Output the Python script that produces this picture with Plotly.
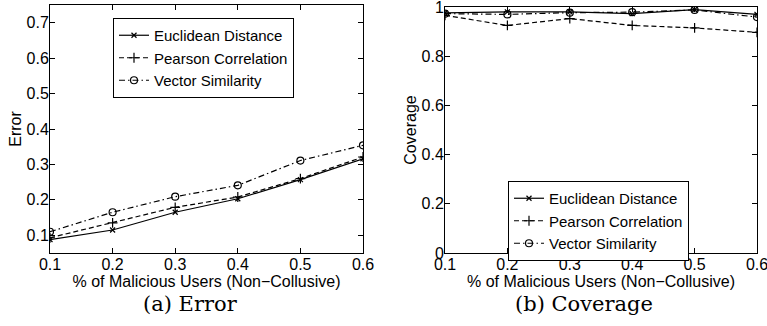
import plotly.graph_objects as go

x_vals = [0.1, 0.2, 0.3, 0.4, 0.5, 0.6]
series_names = ["Euclidean Distance", "Pearson Correlation", "Vector Similarity"]

error_euclid = [0.088, 0.115, 0.165, 0.203, 0.257, 0.316]
error_pearson = [0.093, 0.135, 0.179, 0.208, 0.260, 0.321]
error_vector = [0.110, 0.165, 0.209, 0.241, 0.311, 0.354]

cov_euclid = [0.976, 0.980, 0.980, 0.973, 0.989, 0.970]
cov_pearson = [0.966, 0.925, 0.953, 0.925, 0.915, 0.897]
cov_vector = [0.973, 0.970, 0.977, 0.979, 0.988, 0.959]

x_ticks = [0.1, 0.2, 0.3, 0.4, 0.5, 0.6]
err_ticks = [0.1, 0.2, 0.3, 0.4, 0.5, 0.6, 0.7]
cov_ticks = [0, 0.2, 0.4, 0.6, 0.8, 1]

styles = [
    dict(dash="solid", symbol="x-thin-open", size=5),
    dict(dash="5px,3px", symbol="cross-thin-open", size=7),
    dict(dash="6px,3px,1.5px,3px", symbol="circle-open", size=7),
]

W, H = 767, 326
SANS = "Liberation Sans, Arial, sans-serif"
SERIF = "DejaVu Serif, Liberation Serif, serif"
fig = go.Figure()

for name, ys, st in zip(series_names, [error_euclid, error_pearson, error_vector], styles):
    fig.add_trace(go.Scatter(
        x=x_vals, y=ys, name=name, mode="lines+markers",
        line=dict(color="black", width=1.2, dash=st["dash"]),
        marker=dict(symbol=st["symbol"], size=st["size"], color="black",
                    line=dict(color="black", width=1.2)),
        xaxis="x", yaxis="y", legend="legend"))

for name, ys, st in zip(series_names, [cov_euclid, cov_pearson, cov_vector], styles):
    fig.add_trace(go.Scatter(
        x=x_vals, y=ys, name=name, mode="lines+markers",
        line=dict(color="black", width=1.2, dash=st["dash"]),
        marker=dict(symbol=st["symbol"], size=st["size"], color="black",
                    line=dict(color="black", width=1.2)),
        xaxis="x2", yaxis="y2", legend="legend2"))

tick_font = dict(family=SANS, size=16, color="black")
axis_common = dict(showline=True, linecolor="black", linewidth=1, mirror="ticks",
                   ticks="inside", ticklen=5, tickcolor="black", showgrid=False,
                   zeroline=False, tickfont=tick_font, automargin=False,
                   ticklabeloverflow="allow")

xlabel = "% of Malicious Users (Non\u2212Collusive)"
title_font = dict(family=SANS, size=16, color="black")

fig.update_layout(
    width=W, height=H,
    margin=dict(l=0, r=0, t=0, b=0),
    paper_bgcolor="white", plot_bgcolor="white",
    xaxis=dict(domain=[50 / W, 363 / W], range=[0.1, 0.6], tickvals=x_ticks,
               ticktext=[f"{v:g}" for v in x_ticks], anchor="y", ticklabelstandoff=-3,
               title=dict(text=xlabel, font=title_font, standoff=0), **axis_common),
    yaxis=dict(domain=[(H - 253) / H, (H - 5) / H], range=[0.05, 0.75], tickvals=err_ticks,
               ticktext=[f"{v:g}" for v in err_ticks], anchor="x", ticklabelstandoff=-3,
               title=dict(text="Error", font=title_font, standoff=0), **axis_common),
    xaxis2=dict(domain=[445 / W, 757 / W], range=[0.1, 0.6], tickvals=x_ticks,
                ticktext=[f"{v:g}" for v in x_ticks], anchor="y2", ticklabelstandoff=-3,
                title=dict(text=xlabel, font=title_font, standoff=0), **axis_common),
    yaxis2=dict(domain=[(H - 253) / H, (H - 7) / H], range=[0, 1], tickvals=cov_ticks,
                ticktext=[f"{v:g}" for v in cov_ticks], anchor="x2", ticklabelstandoff=-3,
                title=dict(text="Coverage", font=title_font, standoff=0), **axis_common),
    legend=dict(x=113 / W, y=1 - 18 / H, xanchor="left", yanchor="top",
                bordercolor="black", borderwidth=1, bgcolor="white",
                font=dict(family=SANS, size=15, color="black"),
                tracegroupgap=0, itemwidth=30),
    legend2=dict(x=508 / W, y=1 - 181 / H, xanchor="left", yanchor="top",
                 bordercolor="black", borderwidth=1, bgcolor="white",
                 font=dict(family=SANS, size=15, color="black"),
                 tracegroupgap=0, itemwidth=30),
    annotations=[
        dict(text="(a) Error", x=190 / W, y=1 - 304 / H, xref="paper", yref="paper",
             xanchor="center", yanchor="middle", showarrow=False,
             font=dict(family=SERIF, size=21, color="black")),
        dict(text="(b) Coverage", x=584 / W, y=1 - 304 / H, xref="paper", yref="paper",
             xanchor="center", yanchor="middle", showarrow=False,
             font=dict(family=SERIF, size=21, color="black")),
    ],
)

fig.write_html("out.html", config={"displayModeBar": False},
               post_script="document.body.style.margin='0';")
